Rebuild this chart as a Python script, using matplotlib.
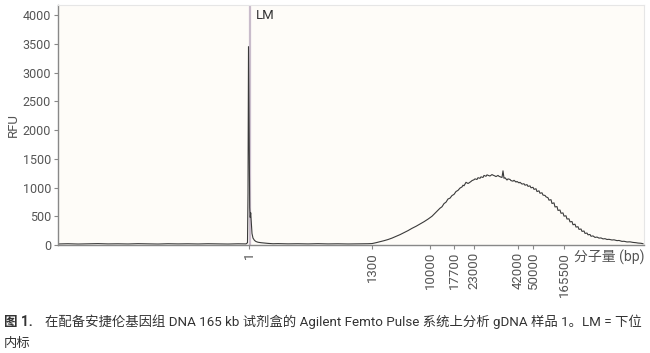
import matplotlib
matplotlib.use("Agg")
import matplotlib.pyplot as plt

plt.rcParams['font.family'] = ['Roboto', 'Noto Sans CJK SC', 'DejaVu Sans']

# Electropherogram trace: migration position (arbitrary units) and RFU
baseline_pos = [0, 10, 20, 30, 40, 50, 60, 70, 80, 90, 100, 110, 120, 130, 140, 150, 160, 170, 180, 188]
baseline_rfu = [18, 22, 17, 20, 24, 19, 21, 18, 23, 20, 17, 22, 19, 21, 18, 22, 20, 17, 21, 19]

lm_pos = [189.5, 190, 190.5, 191, 191.3, 191.7, 192.2, 192.7, 193.3, 194,
          195, 196.5, 198, 200, 203, 206, 210, 215, 220, 230,
          240, 250, 260, 270, 280, 290, 300, 310]
lm_rfu = [40, 900, 3450, 2200, 1200, 650, 480, 560, 380, 200,
          120, 80, 60, 48, 40, 35, 28, 22, 24, 20,
          22, 19, 23, 19, 21, 18, 20, 22]

gdna_pos = [314, 318, 322, 326, 330, 334, 338, 342, 346, 350,
            354, 358, 362, 366, 370, 374, 378, 382, 384, 386,
            388, 390, 392, 394, 396, 398, 400, 402, 404, 405,
            406, 408, 410, 411, 413, 414, 416, 417, 419, 420,
            422, 423, 425, 426, 428, 429, 431, 432, 434, 435,
            437, 438, 440, 441, 443, 444, 445, 446, 447, 449,
            450, 452, 453, 455, 456, 458, 459, 461, 462, 464,
            466, 467, 469, 470, 472, 473, 475, 476, 478, 479,
            481, 482, 484, 485, 487, 488, 490, 491, 493, 494,
            496, 497, 499, 500, 502, 503, 505, 506, 508, 509,
            511, 512, 514, 515, 517, 518, 520, 521, 523, 524,
            526, 527, 529, 530, 532, 533, 535, 537, 539, 541,
            543, 545, 547, 549, 551, 554, 556, 559, 561, 564,
            566, 569, 572, 575, 578, 580, 583, 585]
gdna_rfu = [25, 40, 57, 75, 95, 120, 150, 180, 215, 250,
            290, 325, 365, 405, 450, 500, 570, 640, 665, 720,
            745, 800, 815, 860, 880, 930, 950, 990, 1010, 1040,
            1030, 1090, 1070, 1080, 1105, 1120, 1135, 1150, 1140, 1170,
            1160, 1185, 1175, 1210, 1195, 1220, 1205, 1200, 1225, 1215,
            1200, 1190, 1210, 1195, 1180, 1175, 1290, 1160, 1170, 1130,
            1150, 1140, 1120, 1110, 1125, 1095, 1105, 1080, 1090, 1060,
            1065, 1040, 1050, 1020, 1028, 995, 1003, 968, 978, 930,
            942, 900, 908, 868, 862, 838, 822, 780, 788, 722,
            733, 662, 668, 602, 608, 552, 558, 502, 508, 452,
            455, 402, 408, 352, 362, 312, 318, 272, 278, 237,
            243, 202, 208, 177, 183, 152, 158, 132, 138, 120,
            123, 106, 110, 96, 99, 87, 90, 76, 79, 63,
            65, 53, 55, 45, 40, 34, 30, 22]

# Size ladder positions and labels
ladder_pos = [191, 314, 372, 396, 416, 460, 475, 506]
ladder_labels = ["1", "1300", "10000", "17700", "23000", "42000", "50000", "165500"]
lm_marker_pos = 192

y_ticks = [0, 500, 1000, 1500, 2000, 2500, 3000, 3500, 4000]

pos = baseline_pos + lm_pos + gdna_pos
rfu = baseline_rfu + lm_rfu + gdna_rfu

fig = plt.figure(figsize=(6.5, 3.53), dpi=100)
ax = fig.add_axes([58/650, 1 - 245/353, 586/650, 240/353])
ax.set_facecolor('#fefcf8')

ax.axvline(lm_marker_pos, color='#c9bccb', lw=1.6, zorder=1)
ax.plot(pos, rfu, color='#3a3a3a', lw=0.8, zorder=2)
ax.text(lm_marker_pos + 6, 3990, "LM", fontsize=9.5, color='#333333', va='center', ha='left')

ax.set_xlim(0, 586)
ax.set_ylim(0, 4174)
ax.set_yticks(y_ticks)
ax.set_yticklabels([str(v) for v in y_ticks], fontsize=9, color='#555555')
ax.set_xticks(ladder_pos)
ax.set_xticklabels(ladder_labels, rotation=90, fontsize=9.5, color='#555555')
ax.tick_params(axis='both', length=3, width=0.8, color='#888888', pad=2)
ax.set_ylabel("RFU", fontsize=9.5, color='#555555', labelpad=2)

for s in ['left', 'bottom']:
    ax.spines[s].set_color('#888888')
    ax.spines[s].set_linewidth(1.0)
for s in ['top', 'right']:
    ax.spines[s].set_color('#e6e6e6')
    ax.spines[s].set_linewidth(0.8)

fig.text(645/650, 1 - 257/353, "分子量 (bp)", fontsize=10, color='#555555', ha='right', va='center')

fig.text(4/650, 1 - 322/353, "图 1.", fontsize=9.8, color='#333333', fontweight='bold', ha='left', va='center')
fig.text(45/650, 1 - 322/353,
         "在配备安捷伦基因组 DNA 165 kb 试剂盒的 Agilent Femto Pulse 系统上分析 gDNA 样品 1。LM = 下位",
         fontsize=9.6, color='#333333', ha='left', va='center')
fig.text(4/650, 1 - 343/353, "内标", fontsize=9.6, color='#333333', ha='left', va='center')

fig.savefig("out.png", dpi=100, facecolor='white')
